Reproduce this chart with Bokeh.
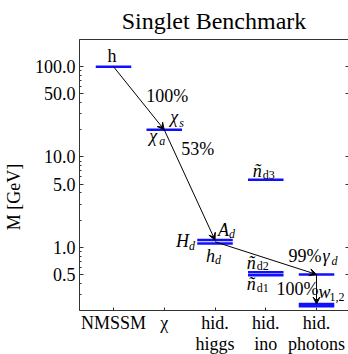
from bokeh.plotting import figure
from bokeh.models import (FixedTicker, LogAxis, LinearAxis, Range1d, Arrow, VeeHead,
                          CustomJSTickFormatter, ColumnDataSource)
from bokeh.embed import file_html
from bokeh.resources import INLINE
from bokeh.core.properties import value

# ---------------- data ----------------
category_pos = [1, 2, 3, 4, 5]
categories = ["NMSSM", "χ", "hid.\nhiggs", "hid.\nino", "hid.\nphotons"]

level_col = [1, 2, 3, 3, 4, 4, 4, 5, 5, 5]
level_mass = [100, 20, 1.1, 1.2, 5.6, 0.49, 0.53, 0.5, 0.222, 0.235]

decay_from_col = [1, 2, 3, 5]
decay_from_mass = [100, 20, 1.15, 0.5]
decay_to_col = [2, 3, 5, 5]
decay_to_mass = [20, 1.2, 0.5, 0.235]
branching = ["100%", "53%", "99%", "100%"]

state_names = ["h", "χ", "χ", "ñ", "A", "H", "h", "ñ", "ñ", "γ", "w"]
state_subs = ["", "s", "a", "d3", "d", "d", "d", "d2", "d1", "d", "1,2"]
state_col = [1, 2, 2, 4, 3, 3, 3, 4, 4, 5, 5]
state_mass = [100, 20, 20, 5.6, 1.15, 1.15, 1.15, 0.51, 0.51, 0.5, 0.5]

y_ticks = [0.5, 1, 5, 10, 50, 100]
y_axis_min, y_axis_max = 0.2, 200

# ---------------- layout / style (pixel offsets) ----------------
FONT = "Liberation Serif"
state_dx = [-6, 6, -15, -13, 3, -39, -9, -19, -19, 6, 2]
state_dy = [-11, -13, 6, -9, -12, -1, 14, -11, 10, -18, 18]
state_italic = [False, True, True, True, True, True, True, True, True, True, True]
sub_dx = [0, 15, -5, -3, 14, -26, 0, -9, -9, 15, 13]
sub_dy = [0, -7, 11, -5, -8, 4, 18, -8, 14, -13, 23]
sub_italic = [False, True, True, False, True, True, True, False, False, True, False]
br_anchor_col = [2, 2, 5, 5]
br_anchor_mass = [20, 20, 0.5, 0.5]
br_dx = [-18, 17, -28, -40]
br_dy = [-34, 19, -18, 15]

half_w = 0.35
# frame extends 44px (at 90px/decade) below the mass axis so the two-line
# category labels fit inside the page
frame_bottom = y_axis_min / 10 ** (44 / 90)

p = figure(width=348, height=354, x_range=Range1d(0.33, 5.63),
           y_range=Range1d(frame_bottom, y_axis_max),
           y_axis_type="log", output_backend="svg", toolbar_location=None,
           title="Singlet Benchmark", min_border_left=79, min_border_right=0,
           min_border_bottom=0, min_border_top=0)
p.outline_line_color = None
p.grid.visible = False
p.background_fill_color = "white"
p.border_fill_color = "white"

p.title.align = "center"
p.title.text_font = FONT
p.title.text_font_style = "normal"
p.title.text_font_size = "24px"
p.title.text_color = "black"
p.title.standoff = 11

AX = "#333333"
# left axis
ya = p.yaxis[0]
ya.bounds = (y_axis_min, y_axis_max)
ya.ticker = FixedTicker(ticks=y_ticks,
                        minor_ticks=[m * 10.0 ** e for e in (-1, 0, 1, 2) for m in range(2, 10)])
ya.formatter = CustomJSTickFormatter(code="return tick.toFixed(1)")
ya.major_tick_in = 4
ya.major_tick_out = 0
ya.minor_tick_in = 2
ya.minor_tick_out = 0
ya.axis_line_color = AX
ya.major_tick_line_color = AX
ya.minor_tick_line_color = AX
ya.major_label_text_font = FONT
ya.major_label_text_font_size = "18px"
ya.major_label_text_color = "black"
ya.major_label_standoff = 4
ya.axis_label = "M [GeV]"
ya.axis_label_text_font = FONT
ya.axis_label_text_font_style = "normal"
ya.axis_label_text_font_size = "18px"
ya.axis_label_text_color = "black"
ya.axis_label_standoff = 8

# bottom axis, pinned at the lower mass bound
xa = p.xaxis[0]
xa.fixed_location = y_axis_min
xa.ticker = FixedTicker(ticks=category_pos, minor_ticks=[])
xa.major_label_overrides = {c: t for c, t in zip(category_pos, categories)}
xa.major_tick_in = 3
xa.major_tick_out = 0
xa.minor_tick_line_color = None
xa.axis_line_color = AX
xa.major_tick_line_color = AX
xa.major_label_text_font = FONT
xa.major_label_text_font_size = "18px"
xa.major_label_text_color = "black"
xa.major_label_text_line_height = 1.05
xa.major_label_standoff = 3

# right axis (ticks only)
ra = LogAxis(ticker=FixedTicker(ticks=y_ticks, minor_ticks=[]),
             formatter=CustomJSTickFormatter(code="return ''"), bounds=(y_axis_min, y_axis_max),
             major_tick_in=3, major_tick_out=0, minor_tick_line_color=None,
             axis_line_color=None, major_tick_line_color=AX, major_label_standoff=0)
p.add_layout(ra, "right")
# top axis (line only)
ta = LinearAxis(ticker=FixedTicker(ticks=[], minor_ticks=[]),
                formatter=CustomJSTickFormatter(code="return ''"),
                major_tick_line_color=None, minor_tick_line_color=None,
                axis_line_color=AX, major_label_standoff=0)
p.add_layout(ta, "above")

# levels
lv = ColumnDataSource(dict(x0=[c - half_w for c in level_col], x1=[c + half_w for c in level_col],
                           y=level_mass))
p.segment(x0="x0", y0="y", x1="x1", y1="y", source=lv, line_color="#1010ff", line_width=2.5)

# decays
for xs, ys, xe, ye in zip(decay_from_col, decay_from_mass, decay_to_col, decay_to_mass):
    p.add_layout(Arrow(x_start=xs, y_start=ys, x_end=xe, y_end=ye, line_width=1,
                       line_color="black",
                       end=VeeHead(size=7, fill_color="black", line_color="black", line_width=1)))

# branching ratios
br = ColumnDataSource(dict(x=br_anchor_col, y=br_anchor_mass, t=branching, dx=br_dx, dy=br_dy))
p.text(x="x", y="y", text="t", x_offset="dx", y_offset="dy", source=br,
       text_font=value(FONT), text_font_size="18px", text_align="left",
       text_baseline="middle", text_color="black")

# state names
for italic_flag in (False, True):
    idx = [i for i in range(len(state_names)) if state_italic[i] == italic_flag]
    s = ColumnDataSource(dict(x=[state_col[i] for i in idx], y=[state_mass[i] for i in idx],
                              t=[state_names[i] for i in idx], dx=[state_dx[i] for i in idx],
                              dy=[state_dy[i] for i in idx]))
    p.text(x="x", y="y", text="t", x_offset="dx", y_offset="dy", source=s,
           text_font=value(FONT), text_font_size="18px",
           text_font_style="italic" if italic_flag else "normal",
           text_align="left", text_baseline="middle", text_color="black")
    idx = [i for i in range(len(state_subs)) if state_subs[i] and sub_italic[i] == italic_flag]
    s = ColumnDataSource(dict(x=[state_col[i] for i in idx], y=[state_mass[i] for i in idx],
                              t=[state_subs[i] for i in idx], dx=[sub_dx[i] for i in idx],
                              dy=[sub_dy[i] for i in idx]))
    p.text(x="x", y="y", text="t", x_offset="dx", y_offset="dy", source=s,
           text_font=value(FONT), text_font_size="12px",
           text_font_style="italic" if italic_flag else "normal",
           text_align="left", text_baseline="middle", text_color="black")

open("out.html", "w").write(file_html(p, INLINE))
